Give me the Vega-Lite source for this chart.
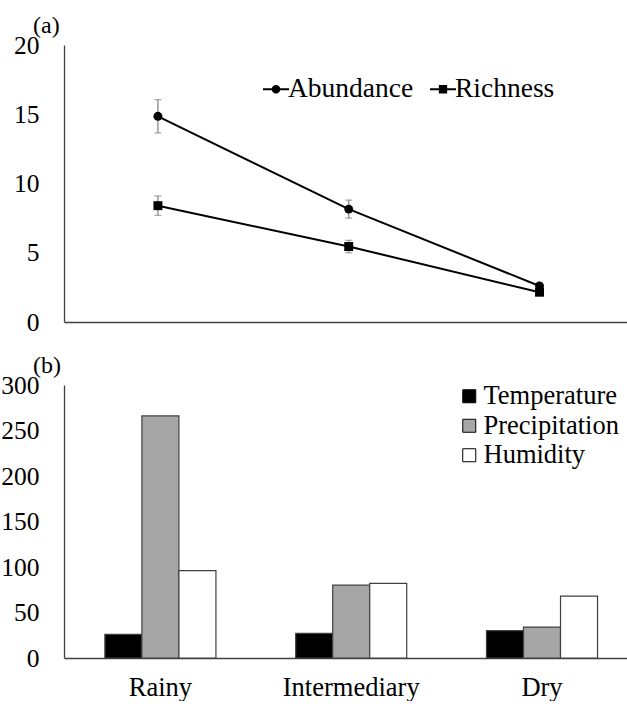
{
  "$schema": "https://vega.github.io/schema/vega-lite/v6.json",
  "padding": {"left": 0, "top": 14, "right": 0, "bottom": 0},
  "config": {
    "font": "Liberation Serif",
    "view": {"stroke": null},
    "axis": {
      "labelFont": "Liberation Serif",
      "labelFontSize": 25.5,
      "labelColor": "#000000",
      "domainColor": "#404040",
      "domainWidth": 1.3,
      "ticks": false,
      "grid": false
    },
    "legend": {
      "labelFont": "Liberation Serif",
      "labelFontSize": 26.5,
      "labelColor": "#000000",
      "padding": 0
    },
    "title": {
      "font": "Liberation Serif",
      "fontSize": 24,
      "fontWeight": "normal",
      "color": "#000000",
      "anchor": "start",
      "frame": "group",
      "baseline": "bottom"
    }
  },
  "spacing": 18,
  "vconcat": [
    {
      "width": 564,
      "height": 277,
      "title": {"text": "(a)", "dx": -31, "offset": -5},
      "data": {
        "values": [
          {"period": "Rainy", "series": "Abundance", "value": 14.85, "lo": 13.65, "hi": 16.05},
          {"period": "Intermediary", "series": "Abundance", "value": 8.15, "lo": 7.5, "hi": 8.8},
          {"period": "Dry", "series": "Abundance", "value": 2.6, "lo": 2.45, "hi": 2.75},
          {"period": "Rainy", "series": "Richness", "value": 8.4, "lo": 7.7, "hi": 9.1},
          {"period": "Intermediary", "series": "Richness", "value": 5.45, "lo": 5.0, "hi": 5.9},
          {"period": "Dry", "series": "Richness", "value": 2.15, "lo": 2.0, "hi": 2.3}
        ]
      },
      "encoding": {
        "x": {
          "field": "period",
          "type": "nominal",
          "title": null,
          "sort": ["Rainy", "Intermediary", "Dry"],
          "scale": {"type": "band", "paddingInner": 0.418, "paddingOuter": 0.187, "align": 0.538},
          "axis": {"labels": false, "domainColor": "#404040", "title": null}
        }
      },
      "layer": [
        {
          "mark": {"type": "errorbar", "color": "#7f7f7f", "thickness": 1.2, "ticks": {"size": 7, "color": "#7f7f7f", "thickness": 1.2}},
          "encoding": {
            "y": {"field": "lo", "type": "quantitative", "title": null, "scale": {"domain": [0, 20]}},
            "y2": {"field": "hi"},
            "detail": {"field": "series"}
          }
        },
        {
          "mark": {"type": "line", "color": "#000000", "strokeWidth": 2},
          "encoding": {
            "y": {
              "field": "value",
              "type": "quantitative",
              "title": null,
              "scale": {"domain": [0, 20]},
              "axis": {"values": [0, 5, 10, 15, 20], "labelPadding": 25, "title": null}
            },
            "detail": {"field": "series"}
          }
        },
        {
          "mark": {"type": "point", "filled": true, "color": "#000000", "opacity": 1, "size": 80},
          "encoding": {
            "y": {"field": "value", "type": "quantitative", "title": null},
            "shape": {"field": "series", "type": "nominal", "scale": {"domain": ["Abundance", "Richness"], "range": ["circle", "square"]}, "legend": null}
          }
        },
        {
          "mark": {"type": "point", "filled": true, "color": "#000000", "opacity": 0, "size": 676},
          "encoding": {
            "y": {"field": "value", "type": "quantitative", "title": null},
            "shape": {
              "field": "series",
              "type": "nominal",
              "scale": {
                "domain": ["Abundance", "Richness"],
                "range": [
                  "M-1,-0.08H1V0.08H-1ZM-0.33,0A0.33,0.33,0,1,1,0.33,0A0.33,0.33,0,1,1,-0.33,0Z",
                  "M-1,-0.08H1V0.08H-1ZM-0.32,-0.32H0.32V0.32H-0.32Z"
                ]
              },
              "legend": {
                "title": null,
                "orient": "none",
                "direction": "horizontal",
                "legendX": 198,
                "legendY": 30,
                "symbolSize": 676,
                "symbolOpacity": 1,
                "symbolFillColor": "#000000",
                "labelFontSize": 27.5,
                "labelOffset": -2,
                "columnPadding": 13,
                "encode": {
                  "symbols": {
                    "update": {
                      "fill": {"value": "#000000"},
                      "size": {"value": 676},
                      "opacity": {"value": 1}
                    }
                  }
                }
              }
            }
          }
        }
      ],
      "resolve": {"scale": {"shape": "independent"}}
    },
    {
      "width": 564,
      "height": 273,
      "title": {"text": "(b)", "dx": -31, "offset": -5},
      "data": {
        "values": [
          {"period": "Rainy", "variable": "Temperature", "value": 26},
          {"period": "Rainy", "variable": "Precipitation", "value": 266},
          {"period": "Rainy", "variable": "Humidity", "value": 96},
          {"period": "Intermediary", "variable": "Temperature", "value": 27},
          {"period": "Intermediary", "variable": "Precipitation", "value": 80},
          {"period": "Intermediary", "variable": "Humidity", "value": 82},
          {"period": "Dry", "variable": "Temperature", "value": 30},
          {"period": "Dry", "variable": "Precipitation", "value": 34},
          {"period": "Dry", "variable": "Humidity", "value": 68}
        ]
      },
      "mark": {"type": "bar", "stroke": "#404040", "strokeWidth": 1.2},
      "encoding": {
        "x": {
          "field": "period",
          "type": "nominal",
          "title": null,
          "sort": ["Rainy", "Intermediary", "Dry"],
          "scale": {"type": "band", "paddingInner": 0.418, "paddingOuter": 0.187, "align": 0.573},
          "axis": {"labelAngle": 0, "labelPadding": 16, "labelFontSize": 26.5, "title": null}
        },
        "xOffset": {
          "field": "variable",
          "type": "nominal",
          "sort": ["Temperature", "Precipitation", "Humidity"],
          "scale": {"paddingInner": 0, "paddingOuter": 0}
        },
        "y": {
          "field": "value",
          "type": "quantitative",
          "title": null,
          "scale": {"domain": [0, 300]},
          "axis": {"values": [0, 50, 100, 150, 200, 250, 300], "labelPadding": 25, "title": null}
        },
        "color": {
          "field": "variable",
          "type": "nominal",
          "sort": ["Temperature", "Precipitation", "Humidity"],
          "scale": {"domain": ["Temperature", "Precipitation", "Humidity"], "range": ["#000000", "#a6a6a6", "#ffffff"]},
          "legend": {
            "title": null,
            "orient": "none",
            "direction": "vertical",
            "legendX": 392,
            "legendY": 338,
            "symbolType": "square",
            "symbolSize": 169,
            "symbolStrokeColor": "#000000",
            "symbolStrokeWidth": 1,
            "symbolOpacity": 1,
            "labelOffset": 1,
            "rowPadding": 2.5,
            "encode": {
              "symbols": {
                "update": {
                  "stroke": {"value": "#000000"},
                  "strokeWidth": {"value": 1}
                }
              }
            }
          }
        }
      }
    }
  ]
}
